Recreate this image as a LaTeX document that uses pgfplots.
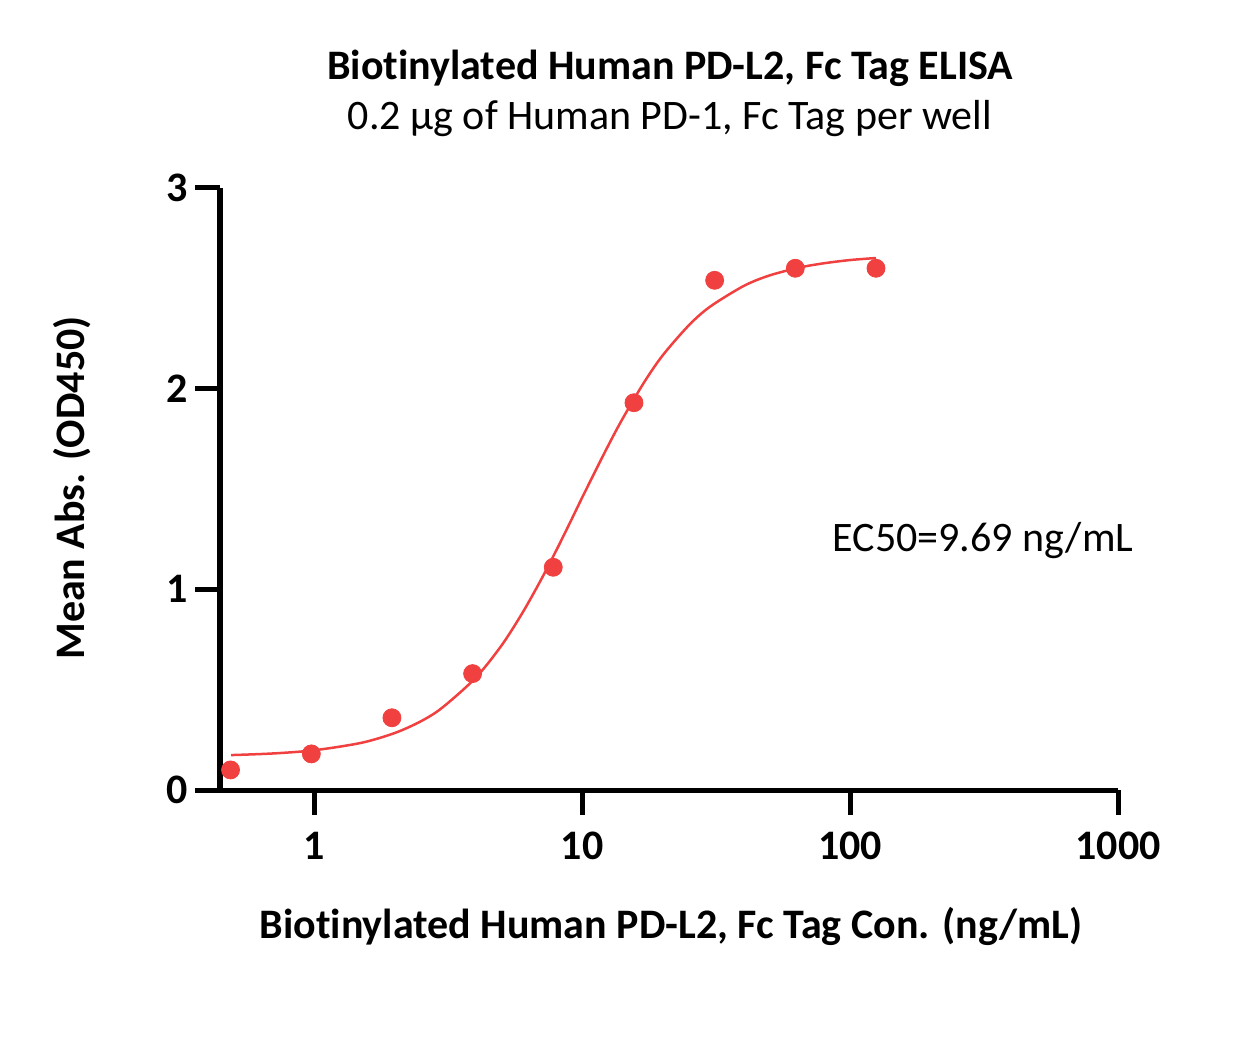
\documentclass[border=0pt]{standalone}
\usepackage{pgfplots}
\pgfplotsset{compat=1.18}
\usepackage{fontspec}
\setmainfont[Ligatures=NoCommon]{Carlito}
\definecolor{ptred}{RGB}{240,64,64}
\begin{document}
\begin{tikzpicture}
\begin{axis}[
  at={(0pt,0pt)}, anchor=south west,
  scale only axis, width=449pt, height=301pt,
  xmode=log, log basis x=10,
  xmin=0.4457, xmax=1000, ymin=0, ymax=3,
  axis x line=bottom, axis y line=left,
  axis line style={line width=2.5pt, -},
  every tick/.style={black, line width=2.5pt},
  tick align=outside, major tick length=12.5pt,
  xminorticks=false,
  xtick={1,10,100,1000}, xticklabels={1,10,100,1000},
  ytick={0,1,2,3},
  tick label style={font=\bfseries\fontsize{21}{25}\selectfont},
  /pgf/number format/assume math mode=true,
  xticklabel style={yshift=-5pt},
  yticklabel style={xshift=0pt},
  clip=false,
]
\addplot[ptred, line width=1.25pt, smooth, no marks] coordinates {
(0.49,0.174)(0.7,0.182)(1,0.198)(1.5,0.235)(2,0.284)(2.5,0.342)(3,0.409)
(4,0.558)(5,0.719)(6,0.884)(7,1.043)(8,1.192)(9,1.330)(10,1.456)(12,1.668)
(14,1.838)(17,2.029)(20,2.166)(25,2.315)(30,2.408)(40,2.511)(50,2.564)
(65,2.604)(80,2.625)(100,2.641)(125,2.651)};
\addplot[only marks, mark=*, mark size=4.5pt, ptred, mark options={draw=ptred, fill=ptred}] coordinates {
(0.488,0.10)(0.977,0.18)(1.953,0.36)(3.906,0.58)(7.8125,1.11)(15.625,1.93)(31.25,2.54)(62.5,2.60)(125,2.60)};
\end{axis}
\node[font=\bfseries\fontsize{21}{25}\selectfont] at (225pt,361pt) {Biotinylated Human PD-L2, Fc Tag ELISA};
\node[font=\fontsize{21}{25}\selectfont] at (225pt,335.5pt) {0.2 µg of Human PD-1, Fc Tag per well};
\node[font=\bfseries\fontsize{21}{25}\selectfont] at (225.5pt,-68pt) {Biotinylated Human PD-L2, Fc Tag Con. (ng/mL)};
\node[font=\bfseries\fontsize{21}{25}\selectfont, rotate=90] at (-74pt,151pt) {Mean Abs. (OD450)};
\node[font=\fontsize{21}{25}\selectfont] at (381.5pt,124.5pt) {EC50=9.69 ng/mL};
\pgfresetboundingbox
\path[use as bounding box] (-110pt,-127pt) rectangle (512.5pt,395pt);
\end{tikzpicture}
\end{document}
